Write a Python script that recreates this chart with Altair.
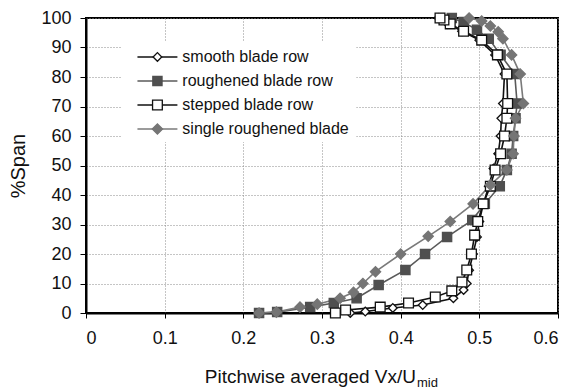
import altair as alt
import pandas as pd

series_names = ["smooth blade row", "roughened blade row", "stepped blade row", "single roughened blade"]

smooth_x = [0.336, 0.355, 0.39, 0.428, 0.467, 0.48, 0.484, 0.487, 0.492, 0.497, 0.50, 0.505, 0.512, 0.518,
            0.524, 0.527, 0.528, 0.530, 0.532, 0.52, 0.50, 0.478, 0.46, 0.452, 0.448]
smooth_y = [0, 0.5, 1.7, 2.7, 5, 7.8, 10, 14.5, 20, 25.8, 31, 37, 43, 49, 54, 60, 66, 71, 81, 87.5, 92.5,
            95.5, 98, 99.3, 100]

rough_x = [0.22, 0.243, 0.285, 0.315, 0.344, 0.372, 0.406, 0.431, 0.459, 0.491, 0.507, 0.526, 0.535,
           0.541, 0.543, 0.546, 0.548, 0.545, 0.527, 0.512, 0.497, 0.48, 0.465]
rough_y = [0, 0.3, 2, 3.4, 5, 9.5, 14.6, 20, 25.8, 31.5, 37, 43, 48.5, 54, 60, 66, 71, 81, 87.5, 93,
           96, 98.6, 100]

step_x = [0.317, 0.33, 0.374, 0.41, 0.444, 0.465, 0.478, 0.484, 0.49, 0.494, 0.498, 0.505, 0.514, 0.52,
          0.527, 0.532, 0.535, 0.536, 0.535, 0.523, 0.503, 0.48, 0.463, 0.455, 0.45]
step_y = [0, 1, 2, 3.4, 5.4, 7.5, 10.5, 14.6, 20, 26.4, 31, 37, 43, 48.5, 54, 60, 66, 71, 81, 87.5, 92.5,
          95.5, 98, 99.3, 100]

single_x = [0.22, 0.242, 0.272, 0.294, 0.323, 0.34, 0.352, 0.368, 0.40, 0.435, 0.463, 0.492, 0.514, 0.535,
            0.543, 0.544, 0.546, 0.556, 0.552, 0.541, 0.53, 0.524, 0.514, 0.503, 0.487]
single_y = [0, 0.3, 2, 3, 5, 7, 10, 14, 20, 26, 31, 37, 43.4, 48.5, 54, 60, 66, 71, 81, 87.5, 93, 95.3,
            97.3, 99, 100]

x_ticks = [0, 0.1, 0.2, 0.3, 0.4, 0.5, 0.6]
y_ticks = [0, 10, 20, 30, 40, 50, 60, 70, 80, 90, 100]

line_colors = ["#111111", "#5a5a5a", "#111111", "#7a7a7a"]
fill_colors = ["white", "#4f4f4f", "white", "#757575"]
stroke_colors = ["#111111", "#4f4f4f", "#111111", "#757575"]
shapes = ["diamond", "square", "square", "diamond"]
sizes = [75, 105, 70, 135]

rows = []
for name, xs, ys in zip(series_names, [smooth_x, rough_x, step_x, single_x],
                        [smooth_y, rough_y, step_y, single_y]):
    for i, (xv, yv) in enumerate(zip(xs, ys)):
        rows.append({"series": name, "x": xv, "y": yv, "idx": i, "sord": series_names.index(name)})
df = pd.DataFrame(rows)

leg = pd.DataFrame({"series": series_names,
                    "ly": [86.8 - 8.15 * i for i in range(4)],
                    "sord": list(range(4))})

dom = series_names
xs = alt.Scale(domain=[0, 0.6], nice=False)
ys = alt.Scale(domain=[0, 100], nice=False)
color_s = alt.Scale(domain=dom, range=line_colors)
fill_s = alt.Scale(domain=dom, range=fill_colors)
stroke_s = alt.Scale(domain=dom, range=stroke_colors)
shape_s = alt.Scale(domain=dom, range=shapes)
size_s = alt.Scale(domain=dom, range=sizes)

FONT = "Liberation Sans"

x_axis = alt.Axis(values=x_ticks, format="~g", title=None, grid=True,
                  labelFontSize=18, labelPadding=11, tickSize=5, labelOverlap=False,
                  gridColor="#8a8a8a", gridDash=[1, 2], gridWidth=1)
y_axis = alt.Axis(values=y_ticks, title="%Span", grid=True,
                  labelFontSize=18, labelPadding=9, tickSize=6, labelOverlap=False,
                  titleFontSize=20, titleFontWeight="normal", titleX=-58,
                  gridColor="#8a8a8a", gridDash=[1, 2], gridWidth=1)

base = alt.Chart(df)
lines = base.mark_line(strokeWidth=1.6).encode(
    x=alt.X("x:Q", scale=xs, axis=x_axis),
    y=alt.Y("y:Q", scale=ys, axis=y_axis),
    color=alt.Color("series:N", scale=color_s, legend=None),
    detail="series:N",
    order="idx:Q",
)
points = base.mark_point(filled=True, strokeWidth=1.3, opacity=1).encode(
    x=alt.X("x:Q", scale=xs, axis=x_axis),
    y=alt.Y("y:Q", scale=ys, axis=y_axis),
    shape=alt.Shape("series:N", scale=shape_s, legend=None),
    fill=alt.Fill("series:N", scale=fill_s, legend=None),
    stroke=alt.Stroke("series:N", scale=stroke_s, legend=None),
    size=alt.Size("series:N", scale=size_s, legend=None),
    order="sord:Q",
)

# white legend box that hides the grid behind the legend
leg_box = alt.Chart(pd.DataFrame({"k": [0]})).mark_rect(color="white").encode(
    x=alt.XDatum(0.045, axis=x_axis), x2=alt.datum(0.3435),
    y=alt.YDatum(58.0, axis=y_axis), y2=alt.datum(91.9),
)

lbase = alt.Chart(leg)
leg_lines = lbase.mark_rule(strokeWidth=1.6).encode(
    x=alt.XDatum(0.0654, axis=x_axis), x2=alt.datum(0.1162),
    y=alt.Y("ly:Q", scale=ys, axis=y_axis),
    color=alt.Color("series:N", scale=color_s, legend=None),
)
leg_pts = lbase.mark_point(filled=True, strokeWidth=1.3, opacity=1).encode(
    x=alt.XDatum(0.0908, axis=x_axis),
    y=alt.Y("ly:Q", scale=ys, axis=y_axis),
    shape=alt.Shape("series:N", scale=shape_s, legend=None),
    fill=alt.Fill("series:N", scale=fill_s, legend=None),
    stroke=alt.Stroke("series:N", scale=stroke_s, legend=None),
    size=alt.Size("series:N", scale=size_s, legend=None),
)
leg_text = lbase.mark_text(align="left", baseline="middle", fontSize=16, font=FONT, color="#111").encode(
    x=alt.XDatum(0.1225, axis=x_axis),
    y=alt.Y("ly:Q", scale=ys, axis=y_axis),
    text="series:N",
)

title_main = alt.Chart(pd.DataFrame({"t": ["Pitchwise averaged Vx/U"]})).mark_text(
    align="right", baseline="alphabetic", fontSize=19, font=FONT, color="#111"
).encode(x=alt.value(330), y=alt.value(365), text="t:N")
title_sub = alt.Chart(pd.DataFrame({"t": ["mid"]})).mark_text(
    align="left", baseline="alphabetic", fontSize=13, font=FONT, color="#111"
).encode(x=alt.value(331), y=alt.value(369), text="t:N")

chart = alt.layer(lines, points, leg_box, leg_lines, leg_pts, leg_text, title_main, title_sub).resolve_scale(
    x="shared", y="shared"
).properties(
    width=472, height=295,
    autosize=alt.AutoSizeParams(type="none"),
    padding={"left": 86, "top": 18, "right": 14, "bottom": 76},
    background="white",
).configure_view(
    stroke="#000", strokeWidth=2
).configure_axis(
    labelFont=FONT, titleFont=FONT, labelColor="#111", titleColor="#111",
    domainColor="#000", domainWidth=2, tickColor="#000", tickWidth=1,
)

chart.save("out.html", embed_options={"renderer": "svg", "actions": False})
